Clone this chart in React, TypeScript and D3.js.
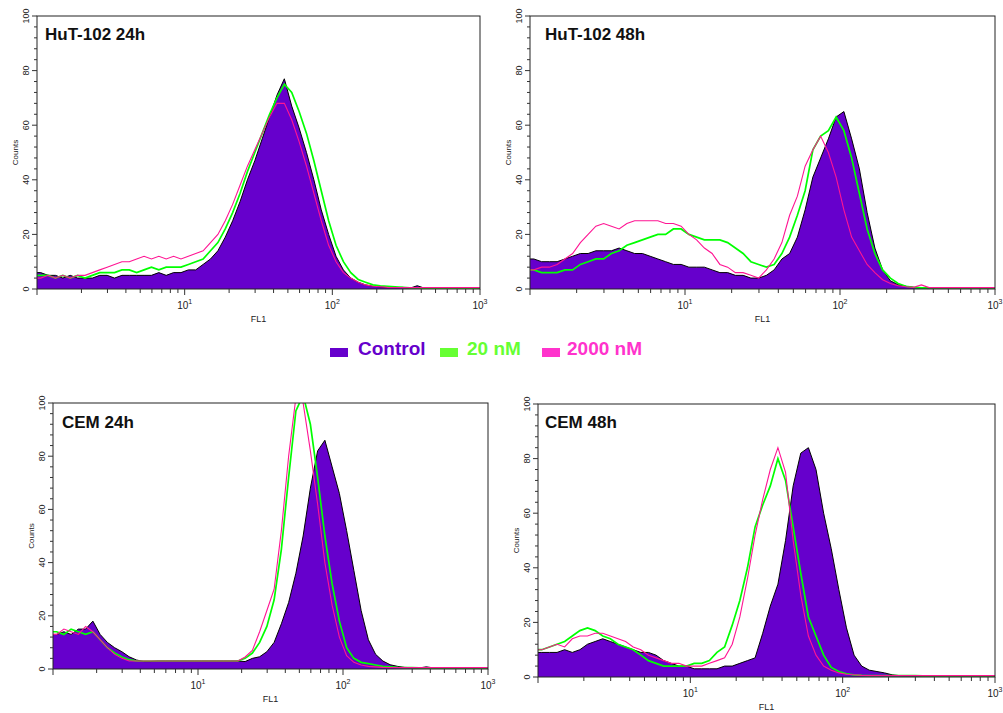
import React from 'react';
import * as d3 from 'd3';

// ---- data ----
// Histogram bins on log10(FL1), each bin 0.05 decade wide, starting at 10^0.
const binLogWidth = 0.05;
const yTickValues = [0, 20, 40, 60, 80, 100];
const xDecadeExponents = [1, 2, 3];
const panelTitles = ['HuT-102 24h', 'HuT-102 48h', 'CEM 24h', 'CEM 48h'];
const seriesNames = ['Control', '20 nM', '2000 nM'];

const hut24Control = [
  6, 5, 5, 4, 5, 4, 4, 4, 5, 5,
  4, 5, 5, 5, 5, 5, 6, 5, 6, 6,
  7, 7, 9, 11, 14, 19, 25, 32, 40, 47,
  55, 63, 71, 77, 67, 59, 50, 40, 29, 20,
  12, 7, 4, 2.5, 1.5, 1, 0.8, 0.6, 0.5, 0.6,
  0.3, 1.2, 0.3, 0.3, 0.3, 0.3, 0.3, 0.3, 0.3, 0.3,
];
const hut24Green = [
  5, 5, 4, 5, 4, 5, 4, 5, 6, 6,
  6, 7, 7, 6, 7, 8, 7, 8, 8, 8,
  9, 10, 11, 14, 17, 22, 28, 35, 43, 50,
  57, 64, 70, 75, 72, 65, 57, 47, 36, 25,
  16, 10, 6, 3.5, 2.5, 1.5, 1.2, 1, 0.8, 0.6,
  0.4, 0.4, 0.3, 0.3, 0.3, 0.3, 0.3, 0.3, 0.3, 0.3,
];
const hut24Pink = [
  4, 5, 4, 5, 4, 5, 5, 6, 7, 8,
  9, 10, 10, 11, 12, 11, 12, 11, 12, 11,
  12, 13, 14, 17, 20, 25, 31, 38, 45, 51,
  57, 63, 68, 68, 62, 54, 45, 35, 25, 16,
  10, 6, 4, 2.5, 1.5, 1, 0.8, 0.6, 0.5, 0.5,
  0.5, 0.5, 0.5, 0.5, 0.5, 0.5, 0.5, 0.5, 0.5, 0.5,
];

const hut48Control = [
  11, 10, 10, 10, 11, 12, 13, 13, 14, 14,
  14, 15, 14, 13, 13, 12, 11, 10, 9, 9,
  8, 8, 8, 7, 6, 6, 5, 5, 4, 4,
  5, 7, 11, 13, 19, 29, 41, 48, 55, 63,
  65, 55, 44, 28, 15, 7, 3, 1.6, 1, 0.6,
  0.4, 0.4, 0.4, 0.4, 0.4, 0.4, 0.4, 0.4, 0.4, 0.4,
];
const hut48Green = [
  7, 6, 6, 6, 7, 7, 9, 10, 11, 11,
  13, 14, 16, 17, 18, 19, 20, 20, 22, 22,
  20, 19, 18, 18, 18, 17, 15, 13, 10, 9,
  8, 9, 13, 19, 27, 36, 51, 56, 58, 63,
  58, 48, 35, 22, 13, 7, 4, 2, 1, 0.6,
  0.4, 0.4, 0.4, 0.4, 0.4, 0.4, 0.4, 0.4, 0.4, 0.4,
];
const hut48Pink = [
  7, 8, 8, 9, 11, 13, 17, 20, 23, 24,
  23, 22, 24, 25, 25, 25, 25, 24, 24, 23,
  20, 18, 15, 13, 9, 8, 6, 6, 5, 4,
  7, 11, 17, 27, 34, 45, 51, 56, 50, 41,
  29, 19, 14, 9, 6, 3.4, 2, 1.2, 0.8, 0.6,
  1.5, 0.5, 0.5, 0.5, 0.5, 0.5, 0.5, 0.5, 0.5, 0.5,
];

const cem24Control = [
  13, 14, 13, 15, 15, 18, 13, 10, 8, 6.5,
  4.6, 3.4, 2.8, 2.8, 3, 3, 3, 3, 3, 3,
  3, 3, 3, 3, 3, 3, 2.8, 4, 4.6, 6.5,
  10, 17, 25, 36, 50, 68, 82, 86, 76, 66,
  52, 37, 22, 11, 5.5, 3, 1.6, 1, 0.6, 0.5,
  0.4, 0.8, 0.4, 0.4, 0.4, 0.4, 0.4, 0.4, 0.4, 0.4,
];
const cem24Green = [
  14, 13, 15, 14, 13, 14, 11, 8, 6, 4.5,
  3.5, 3, 3, 3, 3, 3, 3, 3, 3, 3,
  3, 3, 3, 3, 3, 3, 4, 6, 10, 16,
  26, 45, 72, 97, 103, 92, 72, 50, 32, 18,
  8, 4, 2.5, 2, 1.5, 1, 0.8, 0.6, 0.5, 0.5,
  0.4, 0.4, 0.4, 0.4, 0.4, 0.4, 0.4, 0.4, 0.4, 0.4,
];
const cem24Pink = [
  13, 15, 14, 13, 16, 14, 11, 8, 5.5, 4,
  3, 3, 3, 3, 3, 3, 3, 3, 3, 3,
  3, 3, 3, 3, 3, 3, 4.5, 7, 14, 22,
  30, 52, 80, 102, 100, 82, 62, 40, 24, 12,
  5, 2.5, 1.5, 1, 0.8, 0.6, 0.5, 0.5, 0.5, 0.5,
  0.5, 0.5, 0.5, 0.5, 0.5, 0.5, 0.5, 0.5, 0.5, 0.5,
];

const cem48Control = [
  9, 9, 9, 10, 9, 10, 12, 13, 14, 13,
  12, 11, 10, 9, 9, 8, 6, 5, 4, 4,
  3, 3, 3, 3, 4, 4, 5, 6, 7, 16,
  26, 34, 50, 70, 82, 84, 76, 60, 47, 32,
  18, 8, 4, 2.5, 2, 1.5, 0.8, 0.5, 0.4, 0.4,
  0.4, 0.4, 0.4, 0.4, 0.4, 0.4, 0.4, 0.4, 0.4, 0.4,
];
const cem48Green = [
  10, 11, 12, 13, 15, 17, 18, 17, 15, 14,
  12, 11, 10, 8, 6, 5, 4, 4, 4, 4,
  5, 5, 6, 9, 11, 19, 28, 40, 55, 63,
  70, 80, 72, 55, 38, 22, 15, 8, 3.5, 2,
  1.2, 0.8, 0.6, 0.5, 0.5, 0.5, 0.5, 0.5, 0.5, 0.5,
  0.4, 0.4, 0.4, 0.4, 0.4, 0.4, 0.4, 0.4, 0.4, 0.4,
];
const cem48Pink = [
  10, 11, 12, 11, 14, 15, 15, 16, 16, 15,
  14, 13, 11, 10, 8, 7, 6, 5, 5, 4,
  4, 4, 5, 6, 7, 12, 22, 36, 52, 65,
  76, 84, 75, 50, 30, 15, 8, 4, 2.5, 1.5,
  1, 0.8, 0.6, 0.5, 0.5, 0.5, 0.5, 0.5, 0.5, 0.5,
  0.5, 0.5, 0.5, 0.5, 0.5, 0.5, 0.5, 0.5, 0.5, 0.5,
];

const panelData = [
  [hut24Control, hut24Green, hut24Pink],
  [hut48Control, hut48Green, hut48Pink],
  [cem24Control, cem24Green, cem24Pink],
  [cem48Control, cem48Green, cem48Pink],
];

// ---- layout / style ----
const frames = [
  { left: 37, right: 480, top: 16, bottom: 289 },
  { left: 530, right: 995, top: 16, bottom: 289 },
  { left: 53, right: 488, top: 403, bottom: 669 },
  { left: 538, right: 995, top: 404, bottom: 677 },
];
const titleBaselines = [40, 40, 428, 428];
const titleOffsets = [8, 15, 9, 7];
const FONT = "'Liberation Sans', Arial, Helvetica, sans-serif";
const PURPLE = '#6600cc';
const GREEN = '#00ff00';
const PINK = '#ff1493';
const legendColors = ['#6600cc', '#66ff33', '#ff33cc'];

type Frame = { left: number; right: number; top: number; bottom: number };

function Panel({ idx, frame, title, series }: { idx: number; frame: Frame; title: string; series: number[][] }) {
  const x = d3.scaleLog().domain([1, 1000]).range([frame.left, frame.right]);
  const y = d3.scaleLinear().domain([0, 100]).range([frame.bottom, frame.top]);
  // points at bin centres, plus the two outer edges
  const toPts = (vals: number[]) => {
    const p: [number, number][] = [[1, vals[0]]];
    vals.forEach((v, i) => p.push([Math.pow(10, (i + 0.5) * binLogWidth), v]));
    p.push([1000, vals[vals.length - 1]]);
    return p;
  };
  const area = d3
    .area<[number, number]>()
    .x((d) => x(d[0]))
    .y0(y(0))
    .y1((d) => y(d[1]))
    .curve(d3.curveLinear);
  const line = d3
    .line<[number, number]>()
    .x((d) => x(d[0]))
    .y((d) => y(d[1]))
    .curve(d3.curveLinear);

  const [ctrl, grn, pnk] = series.map(toPts);
  const clipId = `clip${idx}`;
  const minorY = d3.range(0, 101, 4);
  const xTicks: { v: number; major: boolean }[] = [];
  for (let d = 0; d < 3; d++) {
    for (let k = 1; k < 10; k++) xTicks.push({ v: k * Math.pow(10, d), major: k === 1 });
  }
  xTicks.push({ v: 1000, major: true });
  const cy = (frame.top + frame.bottom) / 2;
  const cx = (frame.left + frame.right) / 2;

  return (
    <g>
      <defs>
        <clipPath id={clipId}>
          <rect x={frame.left} y={frame.top} width={frame.right - frame.left} height={frame.bottom - frame.top} />
        </clipPath>
      </defs>
      <g clipPath={`url(#${clipId})`}>
        <path d={area(ctrl) || ''} fill={PURPLE} />
        <path d={line(ctrl) || ''} fill="none" stroke="#000" strokeWidth={1} />
        <path d={line(grn) || ''} fill="none" stroke={GREEN} strokeWidth={1.7} />
        <path d={line(pnk) || ''} fill="none" stroke={PINK} strokeWidth={1.1} />
      </g>
      <rect
        x={frame.left}
        y={frame.top}
        width={frame.right - frame.left}
        height={frame.bottom - frame.top}
        fill="none"
        stroke="#222"
        strokeWidth={1}
      />
      {minorY.map((v) => (
        <line
          key={'my' + v}
          x1={frame.left}
          x2={frame.left - (v % 20 === 0 ? 5 : 3)}
          y1={y(v)}
          y2={y(v)}
          stroke="#333"
          strokeWidth={1}
        />
      ))}
      {yTickValues.map((v) => (
        <text
          key={'yl' + v}
          transform={`translate(${frame.left - 8},${y(v)}) rotate(-90)`}
          textAnchor="middle"
          fontSize={9}
          fontFamily={FONT}
          fill="#222"
        >
          {v}
        </text>
      ))}
      <text
        transform={`translate(${frame.left - 19},${cy}) rotate(-90)`}
        textAnchor="middle"
        fontSize={8}
        fontFamily={FONT}
        fill="#222"
      >
        Counts
      </text>
      {xTicks.map((t, i) => (
        <line
          key={'xt' + i}
          x1={x(t.v)}
          x2={x(t.v)}
          y1={frame.bottom}
          y2={frame.bottom + (t.major ? 6 : 4)}
          stroke="#333"
          strokeWidth={1}
        />
      ))}
      {xDecadeExponents.map((e) => (
        <text
          key={'xl' + e}
          x={x(Math.pow(10, e))}
          y={frame.bottom + 20}
          textAnchor="middle"
          fontSize={10}
          fontFamily={FONT}
          fill="#222"
        >
          10
          <tspan dy={-5} fontSize={7}>
            {e}
          </tspan>
        </text>
      ))}
      <text x={cx} y={frame.bottom + 33} textAnchor="middle" fontSize={9} fontFamily={FONT} fill="#222">
        FL1
      </text>
      <text
        x={frame.left + titleOffsets[idx]}
        y={titleBaselines[idx]}
        fontSize={17}
        fontWeight="bold"
        fontFamily={FONT}
        fill="#111"
      >
        {title}
      </text>
    </g>
  );
}

function Legend() {
  const items = [
    { sq: 330, tx: 358 },
    { sq: 440, tx: 467 },
    { sq: 542, tx: 567 },
  ];
  return (
    <g>
      {seriesNames.map((name, i) => (
        <g key={name}>
          <rect x={items[i].sq} y={348} width={18} height={9} fill={legendColors[i]} />
          <text x={items[i].tx} y={355} fontSize={19} fontWeight="bold" fontFamily={FONT} fill={legendColors[i]}>
            {name}
          </text>
        </g>
      ))}
    </g>
  );
}

export default function App() {
  return (
    <svg
      width={1003}
      height={713}
      viewBox="0 0 1003 713"
      style={{ position: 'absolute', left: 0, top: 0, background: '#fff' }}
    >
      <rect x={0} y={0} width={1003} height={713} fill="#fff" />
      {frames.map((f, i) => (
        <Panel key={i} idx={i} frame={f} title={panelTitles[i]} series={panelData[i]} />
      ))}
      <Legend />
    </svg>
  );
}
